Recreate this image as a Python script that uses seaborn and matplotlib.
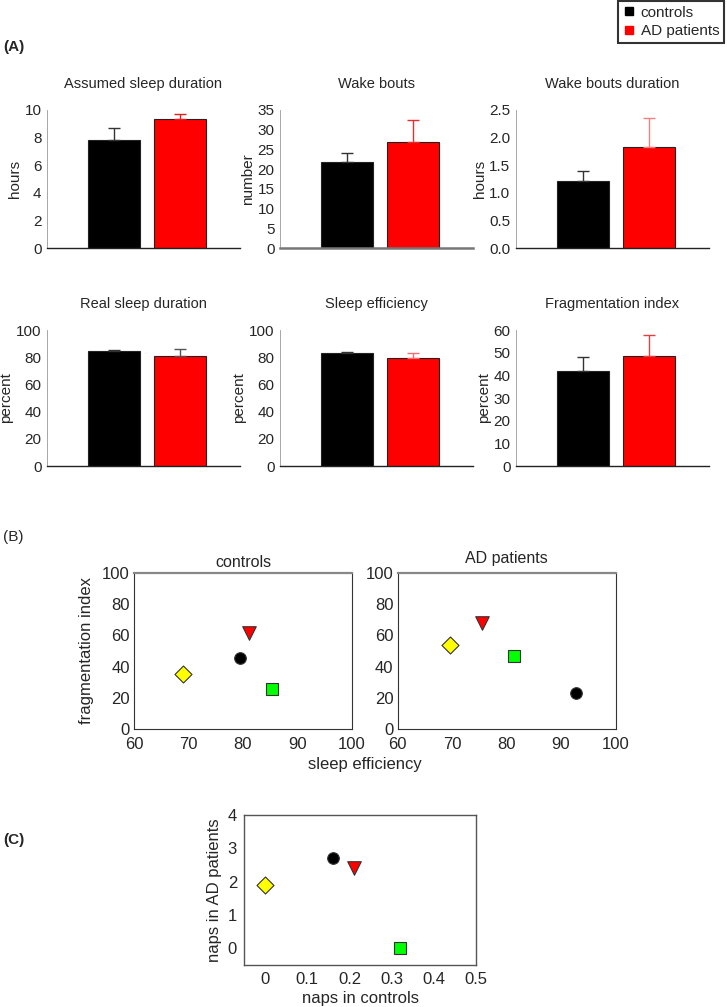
import numpy as np
import pandas as pd
import matplotlib
matplotlib.use("Agg")
import matplotlib.pyplot as plt
import seaborn as sns
from matplotlib.lines import Line2D

sns.set_style("white")
plt.rcParams['font.family'] = ['Liberation Sans', 'DejaVu Sans']

# ---- data ----
groups = ["controls", "AD patients"]

titles = ["Assumed sleep duration", "Wake bouts", "Wake bouts duration",
          "Real sleep duration", "Sleep efficiency", "Fragmentation index"]
ylabels = ["hours", "number", "hours", "percent", "percent", "percent"]
means_controls = [7.82, 21.7, 1.22, 84.5, 82.8, 41.7]
means_ad = [9.36, 26.8, 1.83, 81.0, 79.5, 48.5]
sem_controls = [0.9, 2.4, 0.18, 0.8, 1.2, 6.2]
sem_ad = [0.32, 5.6, 0.53, 4.8, 3.8, 9.4]
y_max = [10, 35, 2.5, 100, 100, 60]
y_step = [2, 5, 0.5, 20, 20, 10]

# (B) sleep efficiency vs fragmentation index, one point per subgroup
subjects = ["s1", "s2", "s3", "s4"]
eff_controls = [68.9, 79.4, 81.1, 85.4]
frag_controls = [35.3, 45.7, 61.7, 25.6]
eff_ad = [69.6, 92.7, 75.5, 81.4]
frag_ad = [53.8, 23.3, 68.0, 47.0]

# (C) naps
naps_controls = [0.0, 0.16, 0.21, 0.32]
naps_ad = [1.9, 2.7, 2.4, 0.0]

marker_map = {"s1": "D", "s2": "o", "s3": "v", "s4": "s"}
color_map = {"s1": "#ffff00", "s2": "#000000", "s3": "#ff0000", "s4": "#00ff00"}
size_map = {"s1": 75, "s2": 70, "s3": 95, "s4": 85}

bar_colors = {"controls": "#000000", "AD patients": "#ff0000"}
err_colors_ad = ["#e02020", "#e03030", "#f08080", "#555555", "#f07070", "#e04040"]

W, H = 727, 1007
fig = plt.figure(figsize=(W / 100, H / 100), dpi=100)


def frac(left, top, right, bottom):
    return [left / W, 1 - bottom / H, (right - left) / W, (bottom - top) / H]


# ---- (A) bar panels ----
col_left = [47, 280, 516]
row_box = [(110, 248), (330, 466)]
for i in range(6):
    r, c = divmod(i, 3)
    top, bottom = row_box[r]
    ax = fig.add_axes(frac(col_left[c], top, col_left[c] + 193, bottom))
    df = pd.DataFrame({"group": groups, "value": [means_controls[i], means_ad[i]]})
    sns.barplot(data=df, x="group", y="value", hue="group", palette=bar_colors,
                width=0.78, errorbar=None, legend=False, ax=ax, saturation=1,
                edgecolor="#222222", linewidth=0.8)
    ecols = ["#333333", err_colors_ad[i]]
    errs = [sem_controls[i], sem_ad[i]]
    means = [means_controls[i], means_ad[i]]
    for k in range(2):
        ax.errorbar([k], [means[k]], yerr=[[0], [errs[k]]], fmt="none",
                    ecolor=ecols[k], elinewidth=1.0, capsize=4, capthick=1.0)
    ax.set_xlim(-1.0, 1.9)
    ax.set_ylim(0, y_max[i])
    ticks = np.arange(0, y_max[i] + y_step[i] / 2, y_step[i])
    ax.set_yticks(ticks)
    if y_step[i] < 1:
        ax.set_yticklabels([f"{t:.1f}" for t in ticks])
    else:
        ax.set_yticklabels([f"{int(t)}" for t in ticks])
    ax.set_xticks([])
    ax.set_xlabel("")
    ax.set_ylabel(ylabels[i], fontsize=11, labelpad=2)
    ax.set_title(titles[i], fontsize=10.5, pad=16)
    ax.tick_params(axis="y", labelsize=11, length=3, width=0.6, direction="out",
                   pad=1, color="#666666")
    for s in ["top", "right"]:
        ax.spines[s].set_visible(False)
    ax.spines["left"].set_color("#999999")
    ax.spines["left"].set_linewidth(0.6)
    ax.spines["bottom"].set_color("#222222" if i != 1 else "#777777")
    ax.spines["bottom"].set_linewidth(1.0 if i != 1 else 1.8)

fig.text(3 / W, 1 - 47 / H, "(A)", fontsize=11, fontweight="bold", va="center")

legend_handles = [
    Line2D([], [], marker="s", linestyle="", markersize=6, color=bar_colors[g],
           label=g) for g in groups]
leg = fig.legend(handles=legend_handles, loc="upper right",
                 bbox_to_anchor=(724 / W, 1 - 1 / H), fontsize=11,
                 frameon=True, fancybox=False, handlelength=0.8,
                 handletextpad=0.4, borderpad=0.3, labelspacing=0.3,
                 borderaxespad=0)
leg.get_frame().set_edgecolor("black")
leg.get_frame().set_linewidth(1.5)

# ---- (B) scatter panels ----
fig.text(3 / W, 1 - 537 / H, "(B)", fontsize=11, va="center")
b_sets = [("controls", eff_controls, frag_controls, 134),
          ("AD patients", eff_ad, frag_ad, 397.5)]
for j, (name, xs, ys, left) in enumerate(b_sets):
    ax = fig.add_axes(frac(left, 573, left + 218, 729))
    df = pd.DataFrame({"x": xs, "y": ys, "subject": subjects})
    for sub in subjects:
        sns.scatterplot(data=df[df["subject"] == sub], x="x", y="y",
                        marker=marker_map[sub], color=color_map[sub],
                        s=size_map[sub], edgecolor="#333333", linewidth=0.8,
                        ax=ax, legend=False, zorder=3)
    ax.set_xlim(60, 100)
    ax.set_ylim(0, 100)
    ax.set_xticks(range(60, 101, 10))
    ax.set_yticks(range(0, 101, 20))
    ax.set_xlabel("")
    ax.set_ylabel("")
    ax.set_title(name, fontsize=11.5, pad=4 if j == 0 else 7)
    ax.tick_params(labelsize=12, length=2, width=0.6, pad=1, direction="out")
    ax.tick_params(axis="x", pad=4)
    for s in ["left", "bottom", "right"]:
        ax.spines[s].set_color("#333333")
        ax.spines[s].set_linewidth(0.8)
    ax.spines["top"].set_color("#888888")
    ax.spines["top"].set_linewidth(1.6)
    if j == 0:
        ax.set_ylabel("fragmentation index", fontsize=12, labelpad=6)
fig.text(365 / W, 1 - 764 / H, "sleep efficiency", fontsize=12,
         ha="center", va="center")

# ---- (C) naps ----
fig.text(3 / W, 1 - 840 / H, "(C)", fontsize=11, fontweight="bold", va="center")
ax = fig.add_axes(frac(244, 815, 476, 965))
df = pd.DataFrame({"x": naps_controls, "y": naps_ad, "subject": subjects})
for sub in subjects:
    sns.scatterplot(data=df[df["subject"] == sub], x="x", y="y",
                    marker=marker_map[sub], color=color_map[sub],
                    s=size_map[sub], edgecolor="#333333", linewidth=0.8,
                    ax=ax, legend=False, zorder=3)
ax.set_xlim(-0.05, 0.5)
ax.set_ylim(-0.5, 4)
ax.set_xticks([0, 0.1, 0.2, 0.3, 0.4, 0.5])
ax.set_xticklabels(["0", "0.1", "0.2", "0.3", "0.4", "0.5"])
ax.set_yticks([0, 1, 2, 3, 4])
ax.set_xlabel("naps in controls", fontsize=12, labelpad=3)
ax.set_ylabel("naps in AD patients", fontsize=12, labelpad=4)
ax.tick_params(labelsize=12, length=3, width=0.6, pad=2, direction="out")
for s in ax.spines.values():
    s.set_color("#555555")
    s.set_linewidth(1.0)

fig.savefig("out.png", dpi=100)
